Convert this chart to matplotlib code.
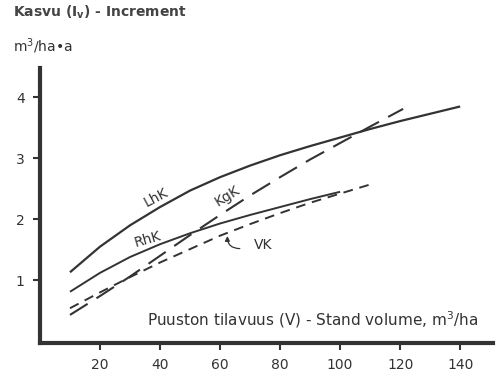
import numpy as np
from matplotlib import pyplot as plt

plt.rcParams['font.family'] = ['DejaVu Sans']

ink = '#333333'

# stand volume (m3/ha) and increment (m3/ha/a) per site type
lhk_x = [10, 20, 30, 40, 50, 60, 70, 80, 90, 100, 110, 120, 130, 140]
lhk_y = [1.13, 1.55, 1.9, 2.2, 2.47, 2.69, 2.88, 3.05, 3.2, 3.34, 3.48, 3.61, 3.73, 3.85]

rhk_x = [10, 20, 30, 40, 50, 60, 70, 80, 90, 100]
rhk_y = [0.81, 1.12, 1.38, 1.59, 1.77, 1.93, 2.07, 2.2, 2.33, 2.45]

kgk_x = [10, 20, 30, 40, 50, 60, 70, 80, 90, 100, 110, 121]
kgk_y = [0.43, 0.74, 1.06, 1.4, 1.74, 2.07, 2.39, 2.69, 2.98, 3.25, 3.52, 3.81]

vk_x = [10, 20, 30, 40, 50, 60, 70, 80, 90, 100, 110]
vk_y = [0.54, 0.8, 1.05, 1.29, 1.51, 1.73, 1.92, 2.1, 2.27, 2.42, 2.57]

xticks = [20, 40, 60, 80, 100, 120, 140]
yticks = [1, 2, 3, 4]

fig = plt.figure(figsize=(4.98, 3.74), dpi=100)
ax = fig.add_axes([0.0803, 0.083, 0.91, 0.735])

ax.plot(lhk_x, lhk_y, color=ink, lw=1.6, solid_capstyle='butt')
ax.plot(rhk_x, rhk_y, color=ink, lw=1.4, solid_capstyle='butt')
ax.plot(kgk_x, kgk_y, color=ink, lw=1.5, dashes=(10, 5))
ax.plot(vk_x, vk_y, color=ink, lw=1.4, dashes=(5, 3.5))

ax.text(38.5, 2.36, 'LhK', rotation=28, fontsize=10, color=ink, ha='center', va='center')
ax.text(62.5, 2.38, 'KgK', rotation=32, fontsize=10, color=ink, ha='center', va='center')
ax.text(36, 1.67, 'RhK', rotation=16, fontsize=10, color=ink, ha='center', va='center')
ax.text(74.5, 1.57, 'VK', fontsize=10, color=ink, ha='center', va='center')
ax.annotate('', xy=(62.5, 1.77), xytext=(67.5, 1.52),
            arrowprops=dict(arrowstyle='-|>', color=ink, lw=0.9, mutation_scale=7,
                            connectionstyle='arc3,rad=-0.6'))

ax.text(146, 0.36, 'Puuston tilavuus (V) - Stand volume, m$^3$/ha', fontsize=11,
        color=ink, ha='right', va='center')

ax.set_xlim(0, 151)
ax.set_ylim(-0.03, 4.48)
ax.set_xticks(xticks)
ax.set_yticks(yticks)
ax.tick_params(direction='out', length=5, width=1.5, colors=ink, labelsize=10, pad=6)

for s in ['top', 'right']:
    ax.spines[s].set_visible(False)
for s in ['left', 'bottom']:
    ax.spines[s].set_linewidth(3)
    ax.spines[s].set_color(ink)

fig.text(0.026, 0.968, 'Kasvu (I$_\\mathbf{v}$) - Increment', fontsize=10, fontweight='bold',
         color='#444444', ha='left', va='center')
fig.text(0.026, 0.877, 'm$^3$/ha\u2022a', fontsize=10, color=ink, ha='left', va='center')

fig.savefig('out.png', dpi=100)
